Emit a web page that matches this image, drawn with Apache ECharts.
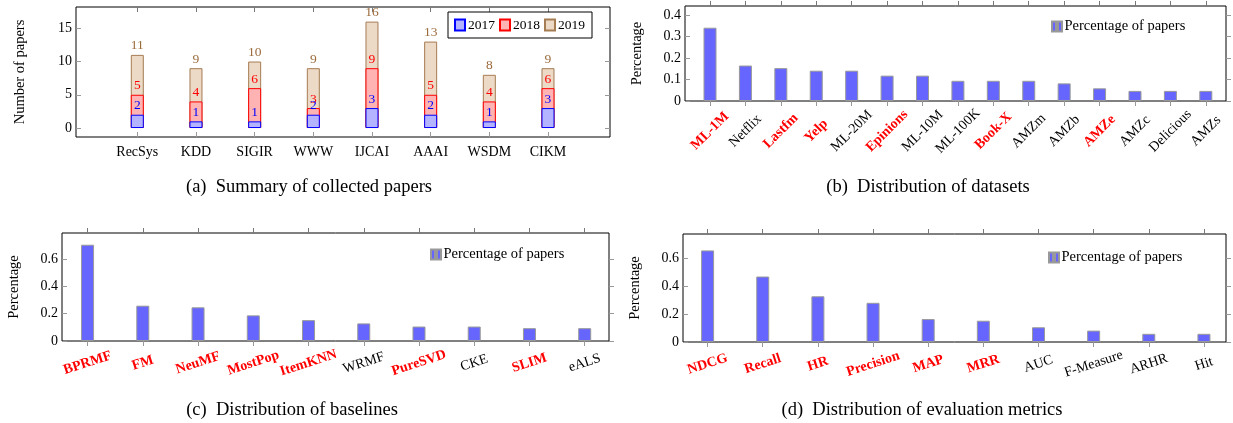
<!DOCTYPE html>
<html><head><meta charset="utf-8">
<script src="https://cdn.jsdelivr.net/npm/echarts@6/dist/echarts.min.js"></script>
<style>html,body{margin:0;padding:0;background:#fff}#chart{width:1233px;height:423px}</style>
</head><body><div id="chart"></div>
<script>
// ---- data ----
const venues = ['RecSys','KDD','SIGIR','WWW','IJCAI','AAAI','WSDM','CIKM'];
const cum2017 = [2,1,1,2,3,2,1,3];
const cum2018 = [5,4,6,3,9,5,4,6];
const cum2019 = [11,9,10,9,16,13,8,9];
const paperTicks = [0,5,10,15];

const datasetNames = ['ML-1M','Netflix','Lastfm','Yelp','ML-20M','Epinions','ML-10M','ML-100K','Book-X','AMZm','AMZb','AMZe','AMZc','Delicious','AMZs'];
const datasetShare = [0.341,0.165,0.153,0.141,0.141,0.118,0.118,0.094,0.094,0.094,0.082,0.059,0.047,0.047,0.047];
const datasetHighlight = ['ML-1M','Lastfm','Yelp','Epinions','Book-X','AMZe'];
const datasetTicks = [0,0.1,0.2,0.3,0.4];

const baselineNames = ['BPRMF','FM','NeuMF','MostPop','ItemKNN','WRMF','PureSVD','CKE','SLIM','eALS'];
const baselineShare = [0.706,0.259,0.247,0.188,0.153,0.129,0.106,0.106,0.094,0.094];
const baselineHighlight = ['BPRMF','FM','NeuMF','MostPop','ItemKNN','PureSVD','SLIM'];

const metricNames = ['NDCG','Recall','HR','Precision','MAP','MRR','AUC','F-Measure','ARHR','Hit'];
const metricShare = [0.659,0.471,0.329,0.282,0.165,0.153,0.106,0.082,0.059,0.059];
const metricHighlight = ['NDCG','Recall','HR','Precision','MAP','MRR'];
const shareTicks = [0,0.2,0.4,0.6];

const captions = ['(a)\u2002Summary of collected papers','(b)\u2002Distribution of datasets','(c)\u2002Distribution of baselines','(d)\u2002Distribution of evaluation metrics'];

// ---- helpers ----
const FONT = 'Liberation Serif';
const TICKC = '#999';
const LBL = 14;
const range = n => Array.from({length:n},(_,i)=>i);
const pairs = arr => arr.map((v,i)=>[i,v]);

function xPair(gi, min, max, names, label, inside){
  const vals = range(names.length);
  return [
    {type:'value', gridIndex:gi, min, max, position:'bottom',
     splitLine:{show:false}, axisLine:{show:false, onZero:false},
     axisTick:{show:true, inside, length:5, customValues:vals, lineStyle:{color:TICKC}},
     axisLabel:Object.assign({show:true, customValues:vals, color:'#000', fontFamily:FONT, fontSize:LBL,
        formatter:v=>names[Math.round(v)]}, label)},
    {type:'value', gridIndex:gi, min, max, position:'top',
     splitLine:{show:false}, axisLine:{show:false, onZero:false}, axisLabel:{show:false},
     axisTick:{show:true, inside, length:5, customValues:vals, lineStyle:{color:'#777'}}}
  ];
}
function yPair(gi, min, max, ticks, name, nameGap, rightInside){
  return [
    {type:'value', gridIndex:gi, min, max, position:'left',
     splitLine:{show:false}, axisLine:{show:false, onZero:false},
     name, nameLocation:'middle', nameRotate:90, nameGap,
     nameTextStyle:{fontFamily:FONT, fontSize:14.5, color:'#000'},
     axisTick:{show:true, inside:true, length:5, customValues:ticks, lineStyle:{color:TICKC}},
     axisLabel:{show:true, customValues:ticks, margin:4, color:'#000', fontFamily:FONT, fontSize:LBL}},
    {type:'value', gridIndex:gi, min, max, position:'right',
     splitLine:{show:false}, axisLine:{show:false, onZero:false}, axisLabel:{show:false},
     axisTick:{show:true, inside:rightInside, length:5, customValues:ticks, lineStyle:{color:TICKC}}}
  ];
}
function richLabel(names, highlight, rotate, margin){
  return {rotate, margin, align:'center', verticalAlign:'middle',
    formatter:v=>{const n=names[Math.round(v)]; return highlight.includes(n)?'{h|'+n+'}':'{n|'+n+'}';},
    rich:{h:{color:'#ff0000', fontWeight:'bold', fontFamily:FONT, fontSize:LBL},
          n:{color:'#000', fontFamily:FONT, fontSize:LBL}}};
}

const grids = [
  {left:76, top:7, width:534, height:130},
  {left:685, top:6, width:541, height:95},
  {left:62, top:233, width:547, height:108},
  {left:683, top:234, width:543, height:108}
].map(g=>Object.assign({show:true, borderColor:'#000', borderWidth:1, backgroundColor:'transparent'}, g));

const xAxes = [].concat(
  xPair(0, -1.045, 8.057, venues, {margin:8}, true),
  xPair(1, -0.706, 14.57, datasetNames, richLabel(datasetNames, datasetHighlight, 45, 30), false),
  xPair(2, -0.463, 9.44, baselineNames, richLabel(baselineNames, baselineHighlight, 18, 22), false),
  xPair(3, -0.446, 9.40, metricNames, richLabel(metricNames, metricHighlight, 18, 22), false)
);
const yAxes = [].concat(
  yPair(0, -1.35, 18.2, paperTicks, 'Number of papers', 48, true),
  yPair(1, 0, 0.442, datasetTicks, 'Percentage', 40, false),
  yPair(2, 0, 0.792, shareTicks, 'Percentage', 40, false),
  yPair(3, 0, 0.777, shareTicks, 'Percentage', 40, false)
);

function yearSeries(name, data, fill, border, labelColor){
  return {type:'bar', name, xAxisIndex:0, yAxisIndex:0, data:pairs(data), barWidth:13, barGap:'-100%',
    itemStyle:{color:fill, borderColor:border, borderWidth:1},
    label:{show:true, position:'top', distance:2, color:labelColor, fontFamily:FONT, fontSize:13.5,
      formatter:p=>p.value[1]},
    emphasis:{disabled:true}};
}
function shareSeries(ai, data){
  return {type:'bar', name:'Percentage of papers', xAxisIndex:ai, yAxisIndex:ai, data:pairs(data), barWidth:13,
    itemStyle:{color:'#6666ff', borderColor:'#999', borderWidth:1}, emphasis:{disabled:true}};
}

const twoBars = 'path://M0,0H4V10H0Z M6,0H10V10H6Z';
function shareLegend(left, top){
  return {data:['Percentage of papers'], left, top, padding:0, icon:twoBars, itemWidth:11, itemHeight:10,
    textStyle:{fontFamily:FONT, fontSize:14.5, color:'#000', padding:[0,0,0,-3]}, selectedMode:false};
}

const option = {
  animation:false,
  backgroundColor:'#fff',
  grid:grids,
  xAxis:xAxes,
  yAxis:yAxes,
  legend:[
    {data:['2017','2018','2019'], left:448, top:12, orient:'horizontal', padding:[6,7,6,6],
     borderColor:'#000', borderWidth:1, itemGap:4, itemWidth:10, itemHeight:11, icon:'rect', selectedMode:false,
     textStyle:{fontFamily:FONT, fontSize:13.5, color:'#000', padding:[0,0,0,-2]}},
    shareLegend(1051, 19),
    shareLegend(430, 247),
    shareLegend(1048, 250)
  ],
  title:[
    {text:captions[0], left:309, top:178},
    {text:captions[1], left:928, top:178},
    {text:captions[2], left:292, top:401},
    {text:captions[3], left:922, top:401}
  ].map(t=>Object.assign({textAlign:'center', padding:0, textStyle:{fontFamily:FONT, fontSize:18.5, fontWeight:'normal', color:'#000'}}, t)),
  series:[
    yearSeries('2019', cum2019, '#ecd9c6', '#a67c52', '#9c6b3c'),
    yearSeries('2018', cum2018, '#ffb3b3', '#ff0000', '#ff0000'),
    yearSeries('2017', cum2017, '#b3b3ff', '#0000ff', '#0000ff'),
    shareSeries(2, datasetShare),
    shareSeries(4, baselineShare),
    shareSeries(6, metricShare)
  ]
};
const chart = echarts.init(document.getElementById('chart'));
chart.setOption(option);
</script></body></html>
